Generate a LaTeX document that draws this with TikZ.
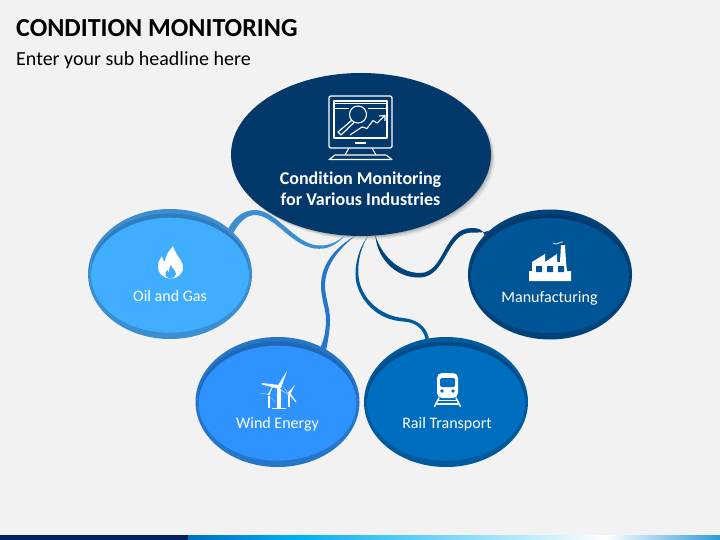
\documentclass[tikz,border=0pt]{standalone}
\usepackage{fontspec}
\setmainfont{Carlito}[Ligatures=NoCommon]
\usetikzlibrary{shapes.geometric}
\definecolor{bg}{HTML}{F2F2F2}
\definecolor{mainblue}{HTML}{03386B}
\definecolor{oilA}{HTML}{3B8FD0}\definecolor{oilB}{HTML}{2F7CBF}\definecolor{oilC}{HTML}{40ADFF}
\definecolor{windA}{HTML}{2575C8}\definecolor{windB}{HTML}{2068B5}\definecolor{windC}{HTML}{2E93FF}
\definecolor{railA}{HTML}{005A9E}\definecolor{railB}{HTML}{004A85}\definecolor{railC}{HTML}{006EBF}
\definecolor{mfgA}{HTML}{00427A}\definecolor{mfgB}{HTML}{003A6C}\definecolor{mfgC}{HTML}{005596}
\definecolor{barN}{HTML}{002060}\definecolor{barA}{HTML}{0070C0}\definecolor{barB}{HTML}{00B0F0}\definecolor{barC}{HTML}{2D9BDB}
\tikzset{
  ringnode/.style={shape=ellipse,inner sep=0pt,outer sep=0pt,minimum width=164pt,minimum height=130pt},
  lab/.style={text=white,font=\fontsize{16}{18}\selectfont,inner sep=0pt,align=center},
  iconline/.style={draw=white,line width=1.1pt,line join=round},
}
\newcommand{\ringdisc}[6]{%
  \node[ringnode,fill=#4] (#1) at (#2,#3) {};
  \fill[#5] (#2,#3-2.5) ellipse [x radius=79,y radius=58];
  \fill[#6] (#2,#3+1.2) ellipse [x radius=79,y radius=57.5];
}
\begin{document}
\begin{tikzpicture}[x=1pt,y=-1pt]
\useasboundingbox (0,0) rectangle (720,540);
\fill[bg] (0,0) rectangle (720,540);
% bottom bar
\fill[barN] (0,535) rectangle (188,540);
\shade[left color=barA,right color=barB] (188,535) rectangle (298,540);
\shade[left color=barB,right color=white] (297.5,535) rectangle (606,540);
\shade[left color=white,right color=barC] (605.5,535) rectangle (720,540);
% headings
\node[anchor=base west,inner sep=0pt,font=\fontsize{26}{28}\selectfont\bfseries] (title) at (16,37) {CONDITION MONITORING};
\node[anchor=base west,inner sep=0pt,font=\fontsize{20}{22}\selectfont] (sub) at (16,66) {Enter your sub headline here};
% main shadow
\foreach \d/\o in {4/0.04,3/0.06,2/0.08,1/0.1}{
  \fill[black,opacity=\o] (361+\d,154.5+\d) ellipse [x radius=130,y radius=81.5];
}
\node[ringnode,minimum width=260pt,minimum height=163pt,fill=mainblue] (main) at (361,154.5) {};
% satellites
\ringdisc{oil}{170}{274}{oilA}{oilB}{oilC}
\ringdisc{wind}{277.5}{402}{windA}{windB}{windC}
\ringdisc{rail}{446}{402}{railA}{railB}{railC}
\ringdisc{mfg}{550}{274.5}{mfgA}{mfgB}{mfgC}
% tapered connectors
\fill[oilA] (oil.38) .. controls (235,216) and (245,210) .. (255,210) .. controls (277,210) and (295,245) .. (319,245.5) .. controls (330,246) and (338,241) .. (main.259)
  .. controls (338,243) and (330,249) .. (319,248.8) .. controls (293,249) and (275,215) .. (255,215) .. controls (247,215) and (239,222) .. (oil.33) -- cycle;
\fill[windA] (main.266) .. controls (335,247) and (321,265) .. (321,285) .. controls (321,300) and (326,308) .. (326,320) .. controls (326,330) and (324,340) .. (wind.52)
  -- (wind.47) .. controls (328,340) and (330,330) .. (330,320) .. controls (330,307) and (325,298) .. (325,285) .. controls (325,267) and (338,249) .. (main.266) -- cycle;
\fill[railA] (main.275) .. controls (357,250) and (353,272) .. (357,285) .. controls (363,305) and (380,320) .. (403,321.5) .. controls (415,322) and (423,328) .. (rail.108)
  -- (rail.105) .. controls (426,325) and (415,319) .. (403,318) .. controls (383,316) and (366,303) .. (360,284) .. controls (356,270) and (359,250) .. (main.275) -- cycle;
\fill[mfgA] (main.280) .. controls (378,263) and (400,278.5) .. (420,277.5) .. controls (447,276.5) and (446,232.5) .. (472,232.5) .. controls (477,232.5) and (483,233) .. (mfg.144)
  -- (mfg.149) .. controls (483,229.5) and (478,228) .. (472,228) .. controls (443,228) and (445,273) .. (420,273) .. controls (402,273) and (383,259) .. (main.280) -- cycle;
% labels
\node[lab,font=\fontsize{18}{21}\selectfont\bfseries] (mainlab) at (360.5,189) {Condition Monitoring\\for Various Industries};
\node[lab] (oillab) at (170,296.5) {Oil and Gas};
\node[lab] (windlab) at (277.5,424.5) {Wind Energy};
\node[lab] (raillab) at (447,424.5) {Rail Transport};
\node[lab] (mfglab) at (549.5,298.5) {Manufacturing};
% monitor icon
\draw[iconline,line width=1.3pt,rounded corners=2pt] (329,96) rectangle (392,148);
\draw[iconline] (334,101) rectangle (387,138);
\draw[iconline] (335,103.5) -- (386,103.5) (335,108.5) -- (349,108.5) (368,108.5) -- (386,108.5);
\draw[iconline,fill=mainblue] (358,114.5) circle [radius=8.5];
\draw[iconline,line width=1.2pt] (351.5,120.5) -- (338,132) -- (341,135) -- (354,122.5);
\draw[iconline] (350,135) -- (362,127) -- (367,128.5) -- (373,120.5) -- (377,123) -- (385,115.5) (379,116) -- (385,115.5) -- (385,121);
\draw[iconline] (355,143) -- (366,143);
\draw[iconline] (349,148) -- (345,155) (372,148) -- (376,155);
\draw[iconline] (335,155) -- (386,155) -- (392,159.5) -- (329,159.5) -- cycle;
% flame icon
\fill[white] (173,246) .. controls (175,254) and (181,258) .. (183,266) .. controls (184,273) and (178,278.5) .. (171,278.5) .. controls (163,278.5) and (157.5,273) .. (158,266) .. controls (158,262) and (160,259) .. (162,256) .. controls (162,259) and (163,261) .. (165,262) .. controls (165,256) and (169,251) .. (173,246) -- cycle;
\fill[oilC] (171,265) .. controls (172,269) and (176,270) .. (176,274) .. controls (176,277) and (173,278.2) .. (170.5,278.2) .. controls (167,278.2) and (165,276) .. (165.5,273) .. controls (166,271) and (167,270) .. (167.5,270) .. controls (167.5,271) and (168,272) .. (169,272) .. controls (168.5,270) and (170,267) .. (171,265) -- cycle;
% turbines
\foreach \hx/\hy/\by/\tw/\bw/\ax/\ay/\bx/\bly/\cx/\cy in {
  279/387/408/1.8/2/287/371/262/383/292/397,
  269/394/408/1.1/1.4/259/393/273/385/275/402,
  289/393/407/1.1/1.4/295/385/296/401/283/386}{
  \fill[white] (\hx-\tw,\hy+2) -- (\hx+\tw,\hy+2) -- (\hx+\tw,\by) -- (\hx-\tw,\by) -- cycle;
  \fill[white] (\hx-\bw,\hy) -- (\ax,\ay) -- (\hx+\bw,\hy+1) -- cycle;
  \fill[white] (\hx,\hy-\bw) -- (\bx,\bly) -- (\bx,\bly+1.5) -- (\hx,\hy+\bw) -- cycle;
  \fill[white] (\hx-\bw,\hy) -- (\cx,\cy) -- (\hx,\hy+\bw) -- cycle;
  \fill[white] (\hx,\hy) circle [radius=\bw];
}
\fill[white] (272,408) rectangle (286,409);
% train icon
\fill[white,rounded corners=5pt] (437,373) -- (458,373) -- (458,398) -- (437,398) -- cycle;
\fill[railC,rounded corners=1.5pt] (440,378) rectangle (455,387);
\fill[railC] (442,391) circle [radius=1.8] (453,391) circle [radius=1.8];
\draw[white,line width=1.5pt,line cap=round] (439,398) -- (434.5,406.5) (456,398) -- (460.5,406.5);
\draw[white,line width=1.1pt] (438,400.5) -- (457,400.5) (436.5,404) -- (458.5,404);
% factory icon
\fill[white] (529,271) -- (532,271) -- (532,262) -- (545,254) -- (545,262) -- (557,254) -- (557,262) -- (560,262) -- (561,245) -- (565,245) -- (566,262) -- (567,271) -- (571,271) -- (571,281) -- (529,281) -- cycle;
\fill[mfgC] (536,266) rectangle (542,272) (547,266) rectangle (553,272) (558,266) rectangle (564,272);
\draw[white,line width=0.7pt] (553,243) .. controls (555,245) and (557,244) .. (559,243) .. controls (560,242) and (562,242) .. (563,242);
\end{tikzpicture}
\end{document}
